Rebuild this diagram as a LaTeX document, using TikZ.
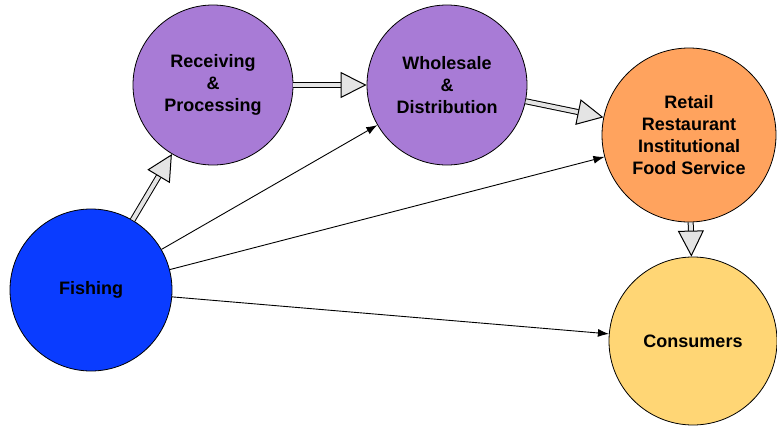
\documentclass[tikz,border=0pt]{standalone}
\usepackage{fontspec}
\setmainfont{Liberation Sans}
\usetikzlibrary{arrows.meta}
\definecolor{mpurple}{HTML}{A87BD6}
\definecolor{mblue}{HTML}{0A3CFF}
\definecolor{morange}{HTML}{FFA35E}
\definecolor{myellow}{HTML}{FFD675}
\definecolor{mgray}{HTML}{E4E4E4}

\begin{document}
\begin{tikzpicture}[x=1pt, y=-1pt,
    stage/.style={circle, draw, line width=0.8pt, minimum size=#1, inner sep=0pt, align=center, font=\bfseries\fontsize{18}{22}\selectfont},
    flow/.style={-{Triangle[open, fill=mgray, length=26pt, width=26pt]}, double=mgray, double distance=4pt, line width=1pt},
    link/.style={-{Latex[length=11pt, width=8pt]}, line width=0.9pt}]
    \useasboundingbox (0,0) rectangle (777,426);

    \node [stage=160pt, fill=mpurple] (recv) at (213,85) {Receiving\\\&\\Processing};
    \node [stage=160pt, fill=mpurple] (whole) at (447,85) {Wholesale\\\&\\Distribution};
    \node [stage=174pt, fill=morange] (retail) at (689,135) {Retail\\Restaurant\\Institutional\\Food Service};
    \node [stage=162pt, fill=mblue] (fish) at (91,290) {Fishing};
    \node [stage=168pt, fill=myellow] (cons) at (693,341) {Consumers};

    \draw [flow] (fish) -- (recv);
    \draw [flow] (recv) -- (whole);
    \draw [flow] (whole) -- (retail);
    \draw [flow] (retail) -- (cons);

    \draw [link] (fish) -- (whole);
    \draw [link] (fish) -- (retail);
    \draw [link] (fish) -- (cons);
\end{tikzpicture}
\end{document}
